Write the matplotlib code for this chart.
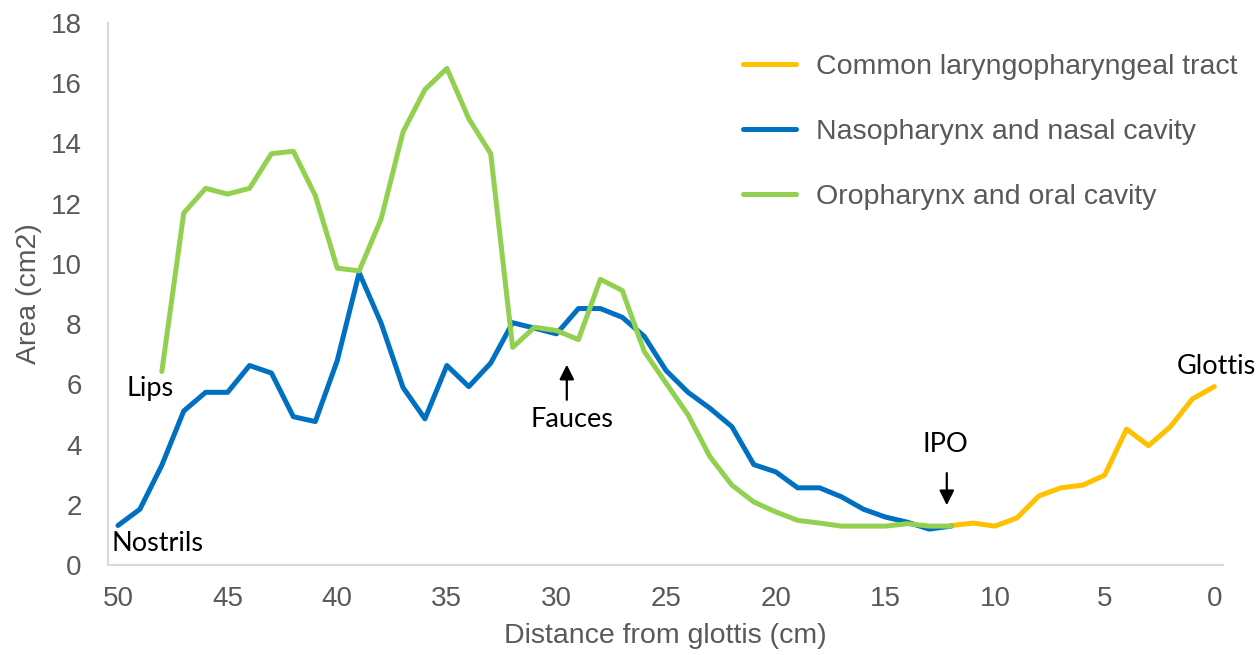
import matplotlib.pyplot as plt

# distance from glottis (cm)
x_naso = list(range(50, 11, -1))
naso = [1.32, 1.86, 3.32, 5.12, 5.74, 5.74, 6.63, 6.38, 4.93, 4.77,
        6.79, 9.71, 8.04, 5.9, 4.86, 6.63, 5.93, 6.71, 8.05, 7.87,
        7.68, 8.52, 8.52, 8.23, 7.6, 6.46, 5.74, 5.21, 4.6, 3.34,
        3.1, 2.57, 2.57, 2.27, 1.86, 1.6, 1.43, 1.2, 1.3]

x_oro = list(range(48, 11, -1))
oro = [6.43, 11.69, 12.51, 12.32, 12.51, 13.66, 13.74, 12.27, 9.86, 9.77,
       11.49, 14.38, 15.79, 16.49, 14.82, 13.66, 7.23, 7.9, 7.79, 7.49,
       9.49, 9.12, 7.1, 6.04, 4.99, 3.6, 2.66, 2.1, 1.77, 1.49,
       1.4, 1.3, 1.3, 1.3, 1.38, 1.3, 1.3]

x_lar = list(range(12, -1, -1))
lar = [1.32, 1.4, 1.3, 1.57, 2.3, 2.57, 2.66, 2.99, 4.52, 3.97, 4.6, 5.52, 5.93]

plt.rcParams['font.family'] = ['Liberation Sans', 'DejaVu Sans']
grey = '#595959'

fig = plt.figure(figsize=(12.57, 6.55), dpi=100)
ax = fig.add_axes([0.086, 0.137, 0.887, 0.828])

ax.plot(x_lar, lar, color='#FFC000', lw=3.6, label='Common laryngopharyngeal tract',
        solid_joinstyle='round', solid_capstyle='round')
ax.plot(x_naso, naso, color='#0070C0', lw=3.6, label='Nasopharynx and nasal cavity',
        solid_joinstyle='round', solid_capstyle='round')
ax.plot(x_oro, oro, color='#92D050', lw=3.6, label='Oropharynx and oral cavity',
        solid_joinstyle='round', solid_capstyle='round')

ax.set_xlim(50.45, -0.4)
ax.set_ylim(0, 18)
ax.set_xticks(range(50, -1, -5))
ax.set_yticks(range(0, 19, 2))
ax.tick_params(length=0, labelsize=20, labelcolor=grey)
ax.tick_params(axis='x', pad=15)
ax.tick_params(axis='y', pad=19)
for s in ['top', 'right']:
    ax.spines[s].set_visible(False)
for s in ['left', 'bottom']:
    ax.spines[s].set_color('#d9d9d9')
    ax.spines[s].set_linewidth(1.5)

ax.set_xlabel('Distance from glottis (cm)', fontsize=20.5, color=grey, labelpad=8)
ax.set_ylabel('Area (cm2)', fontsize=20.5, color=grey, labelpad=6)

leg = ax.legend(loc='upper left', bbox_to_anchor=(0.571, 0.957), bbox_transform=fig.transFigure,
                frameon=False, fontsize=20.5, handlelength=1.85, labelspacing=1.37,
                handletextpad=0.7, labelcolor=grey)

afont = dict(family=['Lato', 'DejaVu Sans'], fontsize=19.5, color='black')
ax.text(48.55, 5.87, 'Lips', ha='center', va='center', **afont)
ax.text(48.2, 0.73, 'Nostrils', ha='center', va='center', **afont)
ax.text(29.3, 4.83, 'Fauces', ha='center', va='center', **afont)
ax.text(12.25, 4.0, 'IPO', ha='center', va='center', **afont)
ax.text(-0.1, 6.6, 'Glottis', ha='center', va='center', clip_on=False, **afont)

ax.annotate('', xy=(29.53, 6.75), xytext=(29.53, 5.4),
            arrowprops=dict(arrowstyle='-|>', color='black', lw=1.6, mutation_scale=22))
ax.annotate('', xy=(12.2, 1.9), xytext=(12.2, 3.15),
            arrowprops=dict(arrowstyle='-|>', color='black', lw=1.6, mutation_scale=22))

fig.savefig('out.png', dpi=100)
